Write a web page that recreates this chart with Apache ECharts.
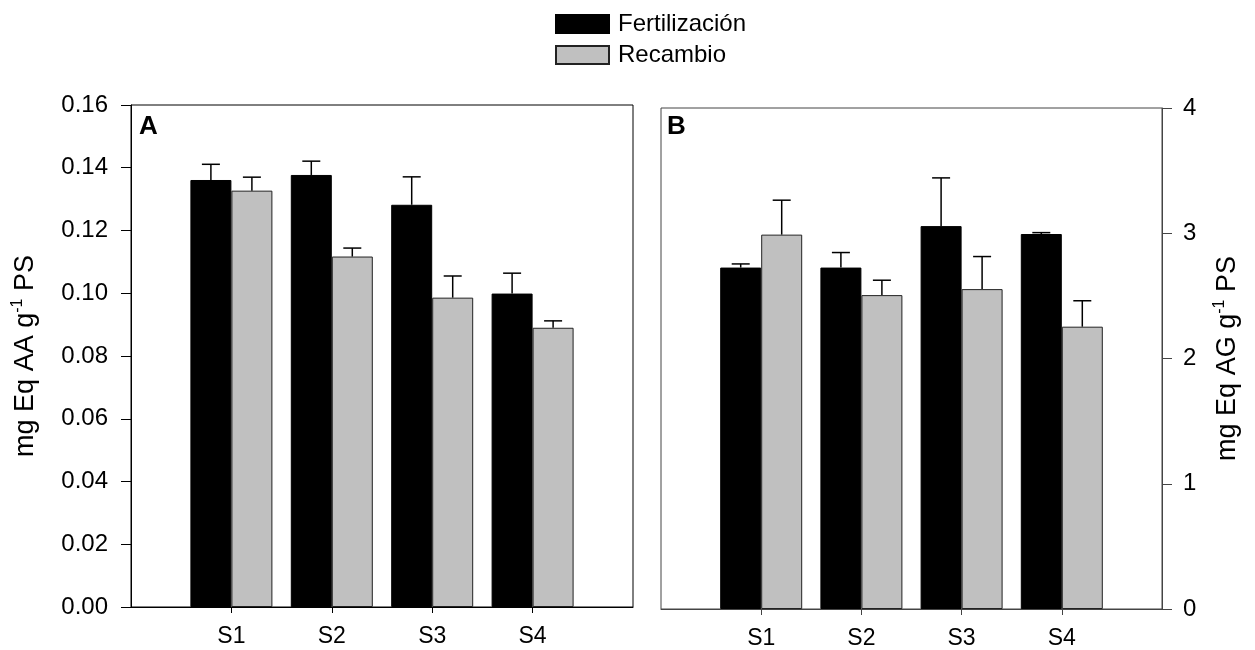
<!DOCTYPE html>
<html>
<head>
<meta charset="utf-8">
<script src="https://cdn.jsdelivr.net/npm/echarts@6/dist/echarts.min.js"></script>
<style>html,body{margin:0;padding:0;background:#fff;}#c{width:1255px;height:650px;}</style>
</head>
<body>
<div id="c"></div>
<script>
const categories = ['S1', 'S2', 'S3', 'S4'];
const seriesNames = ['Fertilización', 'Recambio'];
// Panel A: mg Eq AA g-1 PS
const fertA = [0.1361, 0.1377, 0.1282, 0.0999];
const fertAErr = [0.0050, 0.0044, 0.0089, 0.0065];
const recA = [0.1327, 0.1117, 0.0986, 0.0890];
const recAErr = [0.0043, 0.0027, 0.0069, 0.0022];
// Panel B: mg Eq AG g-1 PS
const fertB = [2.726, 2.726, 3.057, 2.994];
const fertBErr = [0.029, 0.120, 0.385, 0.011];
const recB = [2.989, 2.506, 2.554, 2.254];
const recBErr = [0.275, 0.119, 0.260, 0.207];
const yTicksA = [0, 0.02, 0.04, 0.06, 0.08, 0.10, 0.12, 0.14, 0.16];
const yTicksB = [0, 1, 2, 3, 4];

const FONT = "'Liberation Sans', Arial, sans-serif";
const axisData = [''].concat(categories, ['']);
const pad = arr => ['-'].concat(arr, ['-']);
const BAR_W = 41;

function errSeries(name, vals, errs, gridIdx, dir) {
  return {
    type: 'custom', name: name, xAxisIndex: gridIdx, yAxisIndex: gridIdx, z: 5,
    silent: true, legendHoverLink: false,
    data: vals.map((v, i) => [i + 1, v, errs[i]]),
    encode: { x: 0, y: 1 },
    renderItem: function (params, api) {
      const x = api.value(0), y = api.value(1), e = api.value(2);
      const p0 = api.coord([x, y]);
      const p1 = api.coord([x, y + e]);
      const cx = p0[0] + dir * BAR_W / 2;
      const st = { stroke: '#000', lineWidth: 1.5 };
      return {
        type: 'group',
        children: [
          { type: 'line', shape: { x1: cx, y1: p0[1], x2: cx, y2: p1[1] }, style: st },
          { type: 'line', shape: { x1: cx - 9, y1: p1[1], x2: cx + 9, y2: p1[1] }, style: st }
        ]
      };
    }
  };
}

const tickShow = (i) => i > 0 && i < axisData.length - 1;

function xAxisCfg(gridIdx, color) {
  return {
    type: 'category', gridIndex: gridIdx, data: axisData, boundaryGap: false,
    axisLine: { show: true, lineStyle: { color: color, width: 1 } },
    axisTick: { show: true, interval: tickShow, length: 6, lineStyle: { color: color } },
    axisLabel: { interval: 0, fontFamily: FONT, fontSize: 23, color: '#000', margin: 18 },
    splitLine: { show: false }
  };
}

const nameRich = () => ({
  a: { fontFamily: FONT, fontSize: 27, color: '#000', lineHeight: 32 },
  s: { fontFamily: FONT, fontSize: 16, color: '#000', lineHeight: 16, verticalAlign: 'top' }
});

const option = {
  animation: false,
  backgroundColor: '#fff',
  title: [
    { text: 'A', left: 134, top: 109, textStyle: { fontFamily: FONT, fontSize: 26, fontWeight: 'bold', color: '#000' } },
    { text: 'B', left: 662, top: 109, textStyle: { fontFamily: FONT, fontSize: 26, fontWeight: 'bold', color: '#000' } }
  ],
  legend: {
    orient: 'vertical', left: 550, top: 7, itemWidth: 53, itemHeight: 18, itemGap: 7,
    icon: 'rect', selectedMode: false,
    data: seriesNames,
    textStyle: { fontFamily: FONT, fontSize: 24, color: '#000', lineHeight: 24, padding: [0, 0, 0, 4] }
  },
  grid: [
    { left: 131, right: 622, top: 105, bottom: 43, show: true, borderColor: '#000', borderWidth: 1, backgroundColor: 'transparent' },
    { left: 661, right: 93, top: 108, bottom: 39, show: true, borderColor: '#444', borderWidth: 1, backgroundColor: 'transparent' }
  ],
  xAxis: [xAxisCfg(0, '#000'), xAxisCfg(1, '#444')],
  yAxis: [
    {
      type: 'value', gridIndex: 0, min: yTicksA[0], max: yTicksA[yTicksA.length - 1], interval: 0.02,
      axisLine: { show: true, lineStyle: { color: '#000' } },
      axisTick: { show: true, length: 10, lineStyle: { color: '#000' } },
      axisLabel: { fontFamily: FONT, fontSize: 24, color: '#000', margin: 23, formatter: v => v.toFixed(2) },
      splitLine: { show: false },
      name: '{a|mg Eq AA g}{s|-1}{a| PS}', nameLocation: 'middle', nameRotate: 90, nameGap: 89,
      nameTextStyle: { rich: nameRich() }
    },
    {
      type: 'value', gridIndex: 1, position: 'right', min: yTicksB[0], max: yTicksB[yTicksB.length - 1], interval: 1,
      axisLine: { show: true, lineStyle: { color: '#444' } },
      axisTick: { show: true, length: 10, lineStyle: { color: '#444' } },
      axisLabel: { fontFamily: FONT, fontSize: 24, color: '#000', margin: 21 },
      splitLine: { show: false },
      name: '{a|mg Eq AG g}{s|-1}{a| PS}', nameLocation: 'middle', nameRotate: 90, nameGap: 50,
      nameTextStyle: { rich: nameRich() }
    }
  ],
  series: [
    { type: 'bar', name: seriesNames[0], xAxisIndex: 0, yAxisIndex: 0, data: pad(fertA), barWidth: BAR_W, barGap: '0%',
      itemStyle: { color: '#000', borderColor: '#000', borderWidth: 1 } },
    { type: 'bar', name: seriesNames[1], xAxisIndex: 0, yAxisIndex: 0, data: pad(recA), barWidth: BAR_W, barGap: '0%',
      itemStyle: { color: '#c0c0c0', borderColor: '#222', borderWidth: 1 } },
    { type: 'bar', name: seriesNames[0], xAxisIndex: 1, yAxisIndex: 1, data: pad(fertB), barWidth: BAR_W, barGap: '0%',
      itemStyle: { color: '#000', borderColor: '#000', borderWidth: 1 } },
    { type: 'bar', name: seriesNames[1], xAxisIndex: 1, yAxisIndex: 1, data: pad(recB), barWidth: BAR_W, barGap: '0%',
      itemStyle: { color: '#c0c0c0', borderColor: '#222', borderWidth: 1 } },
    errSeries('errFA', fertA, fertAErr, 0, -1),
    errSeries('errRA', recA, recAErr, 0, 1),
    errSeries('errFB', fertB, fertBErr, 1, -1),
    errSeries('errRB', recB, recBErr, 1, 1)
  ]
};

const chart = echarts.init(document.getElementById('c'), null, { renderer: 'canvas' });
chart.setOption(option);
</script>
</body>
</html>
